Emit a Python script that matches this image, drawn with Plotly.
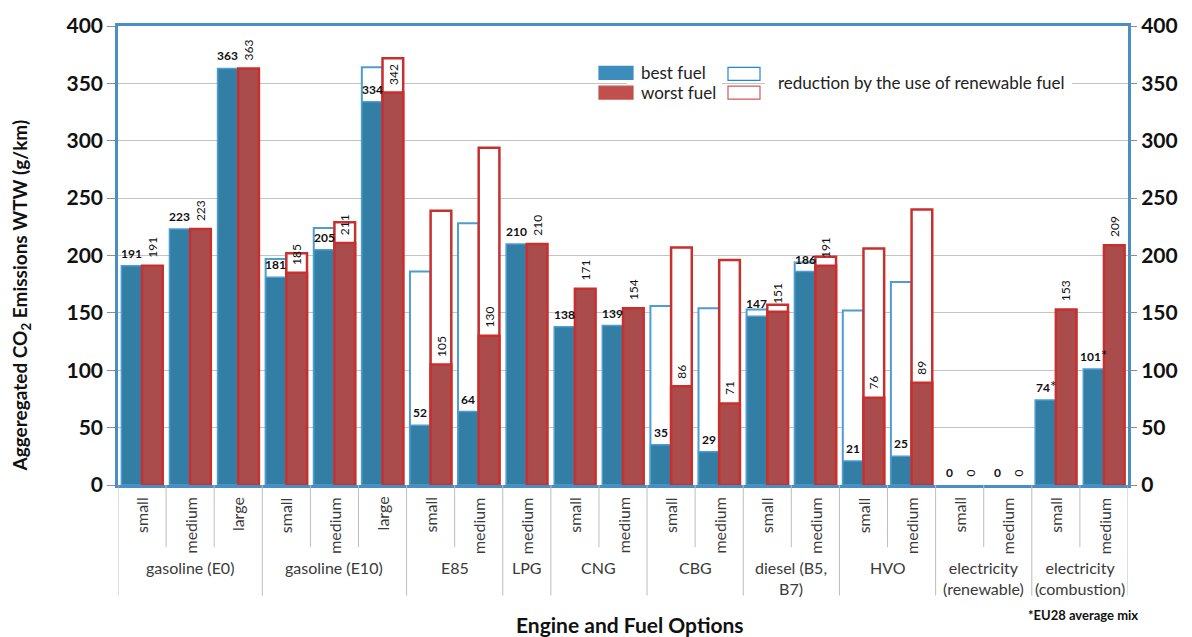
import plotly.graph_objects as go

# ---- data -------------------------------------------------------------
fuel_groups = ["gasoline (E0)", "gasoline (E10)", "E85", "LPG", "CNG", "CBG",
               "diesel (B5,<br>B7)", "HVO", "electricity<br>(renewable)",
               "electricity<br>(combustion)"]
group_sizes = [3, 3, 2, 1, 2, 2, 2, 2, 2, 2]
engine_sizes = ["small", "medium", "large",
                "small", "medium", "large",
                "small", "medium",
                "medium",
                "small", "medium",
                "small", "medium",
                "small", "medium",
                "small", "medium",
                "small", "medium",
                "small", "medium"]

# emissions with the best / worst fuel of each option (g/km)
best_fuel = [191, 223, 363, 181, 205, 334, 52, 64, 210, 138, 139,
             35, 29, 147, 186, 21, 25, 0, 0, 74, 101]
worst_fuel = [191, 223, 363, 185, 211, 342, 105, 130, 210, 171, 154,
              86, 71, 151, 191, 76, 89, 0, 0, 153, 209]
# emissions before the reduction by renewable fuel (outlined part)
best_fossil_top = [None, None, None, 197, 224, 364, 186, 228, None, None, None,
                   156, 154, 153, 194, 152, 177, None, None, None, None]
worst_fossil_top = [None, None, None, 202, 229, 372, 239, 294, None, None, None,
                    207, 196, 157, 199, 206, 240, None, None, None, None]
# footnote marks on the best-fuel labels (EU28 electricity mix)
best_label_note = [""] * 19 + ["*", "*"]

y_ticks = [0, 50, 100, 150, 200, 250, 300, 350, 400]

# ---- style ------------------------------------------------------------
FONT = "Lato, 'Open Sans', sans-serif"
BLUE_FILL = "#327ea5"
BLUE_EDGE = "#4d9cd2"
RED_FILL = "#a94c4b"
RED_EDGE = "#c8302f"
FRAME = "#4a8fc4"
GRID = "#c4c4c4"
SEP = "#bdbdbd"
TXT = "#3a3a3a"
BAR_W = 0.43

W, H = 1192, 637
ML, MR, MT, MB = 118, 64, 20, 152
PW, PH = W - ML - MR, H - MT - MB


def px_x(px):
    return (px - ML) / PW


def px_y(py):
    return (H - MB - py) / PH


def edge_widths(values, width):
    # no outline on empty (zero-height) bars
    return [width if v else 0 for v in values]


idx = list(range(len(engine_sizes)))

fig = go.Figure()

# outlined bars: level before the renewable share
fig.add_bar(x=idx, y=best_fossil_top, width=BAR_W, offset=-BAR_W,
            marker=dict(color="white", line=dict(color=BLUE_EDGE, width=2)))
fig.add_bar(x=idx, y=worst_fossil_top, width=BAR_W, offset=0,
            marker=dict(color="white", line=dict(color=RED_EDGE, width=2.5)))
# filled bars
fig.add_bar(x=idx, y=best_fuel, width=BAR_W, offset=-BAR_W,
            marker=dict(color=BLUE_FILL,
                        line=dict(color=BLUE_EDGE,
                                  width=edge_widths(best_fuel, 1.5))))
fig.add_bar(x=idx, y=worst_fuel, width=BAR_W, offset=0,
            marker=dict(color=RED_FILL,
                        line=dict(color=RED_EDGE,
                                  width=edge_widths(worst_fuel, 2.5))))
# carrier for the right-hand value axis
fig.add_scatter(x=[], y=[], yaxis="y2", showlegend=False)

annotations = []
shapes = []

# value labels
for i, (b, w) in enumerate(zip(best_fuel, worst_fuel)):
    note = (f"<span style='font-size:15px'>{best_label_note[i]}</span>"
            if best_label_note[i] else "")
    annotations.append(dict(x=i - BAR_W / 2, y=b, xref="x", yref="y",
                            text=f"<b>{b}</b>{note}", showarrow=False,
                            yanchor="bottom", yshift=3,
                            font=dict(family=FONT, size=12, color="#111")))
    annotations.append(dict(x=i + BAR_W / 2, y=w, xref="x", yref="y",
                            text=str(w), textangle=-90, showarrow=False,
                            yanchor="bottom", yshift=6,
                            font=dict(family=FONT, size=12, color="#111")))

# engine size labels
for i, s in enumerate(engine_sizes):
    annotations.append(dict(x=i, y=px_y(495), xref="x", yref="paper",
                            text=s, textangle=-90, showarrow=False,
                            yanchor="top",
                            font=dict(family=FONT, size=16, color=TXT)))

# fuel group labels and separators
start = 0
group_edges = [-0.5]
for g, n in zip(fuel_groups, group_sizes):
    centre = start + (n - 1) / 2
    annotations.append(dict(x=centre, y=px_y(557), xref="x", yref="paper",
                            text=g, showarrow=False, yanchor="top",
                            font=dict(family=FONT, size=16, color=TXT)))
    for k in range(1, n):
        b = start + k - 0.5
        shapes.append(dict(type="line", xref="x", yref="paper",
                           x0=b, x1=b, y0=px_y(485), y1=px_y(548),
                           line=dict(color=SEP, width=1)))
    start += n
    group_edges.append(start - 0.5)
for b in group_edges:
    shapes.append(dict(type="line", xref="x", yref="paper",
                       x0=b, x1=b, y0=px_y(485), y1=px_y(597),
                       line=dict(color=SEP, width=1)))

# axis titles and footnote
annotations.append(dict(x=px_x(630), y=px_y(626), xref="paper", yref="paper",
                        text="<b>Engine and Fuel Options</b>", showarrow=False,
                        xanchor="center", yanchor="middle",
                        font=dict(family=FONT, size=21, color="#111")))
annotations.append(dict(x=px_x(1140), y=px_y(617), xref="paper", yref="paper",
                        text="<b>*EU28 average mix</b>", showarrow=False,
                        xanchor="right", yanchor="middle",
                        font=dict(family=FONT, size=13, color="#111")))
annotations.append(dict(x=px_x(21), y=px_y(293), xref="paper", yref="paper",
                        text="<b>Aggeregated CO<sub>2</sub> Emissions WTW (g/km)</b>",
                        textangle=-90, showarrow=False,
                        xanchor="center", yanchor="middle",
                        font=dict(family=FONT, size=19, color="#111")))

# legend block
for x0, x1 in [(627, 722), (765, 1072)]:
    shapes.append(dict(type="rect", xref="paper", yref="paper",
                       x0=px_x(x0), x1=px_x(x1), y0=px_y(57), y1=px_y(98),
                       fillcolor="white", line=dict(width=0), layer="above"))
legend_boxes = [
    (599, 633, 61, 74, "#3c8dbc", "#3c8dbc"),
    (599, 633, 81, 94, "#c0504d", "#c0504d"),
    (728, 760, 62, 75, "white", "#1f8ad0"),
    (728, 760, 81, 94, "white", "#d05a5a"),
]
for x0, x1, y0, y1, fill, edge in legend_boxes:
    shapes.append(dict(type="rect", xref="paper", yref="paper",
                       x0=px_x(x0), x1=px_x(x1), y0=px_y(y0), y1=px_y(y1),
                       fillcolor=fill, line=dict(color=edge, width=1.2),
                       layer="above"))
for txt, xp, yp in [("best fuel", 639, 67), ("worst fuel", 639, 87),
                    ("reduction by the use of renewable fuel", 776, 77)]:
    annotations.append(dict(x=px_x(xp), y=px_y(yp), xref="paper", yref="paper",
                            text=txt, showarrow=False, xanchor="left",
                            yanchor="middle",
                            font=dict(family=FONT, size=17, color="#222")))

tick_font = dict(family=FONT, size=21, color="#111")
fig.update_layout(
    width=W, height=H,
    margin=dict(l=ML, r=MR, t=MT, b=MB),
    paper_bgcolor="white", plot_bgcolor="white",
    barmode="overlay", showlegend=False,
    xaxis=dict(range=[-0.5, len(idx) - 0.5], showticklabels=False,
               ticks="", showgrid=False, zeroline=False,
               showline=True, mirror=True, linecolor=FRAME, linewidth=2.5),
    yaxis=dict(range=[0, 400], tickvals=y_ticks,
               ticktext=[f"<b>{t}</b>" for t in y_ticks],
               tickfont=tick_font, ticks="outside", ticklen=8,
               tickcolor="#8c8c8c", showgrid=True, gridcolor=GRID,
               gridwidth=1, zeroline=False, showline=True, mirror=True,
               linecolor=FRAME, linewidth=2.5),
    yaxis2=dict(range=[0, 400], overlaying="y", side="right",
                tickvals=y_ticks, ticktext=[f"<b>{t}</b>" for t in y_ticks],
                tickfont=tick_font, ticks="outside", ticklen=8,
                tickcolor="#8c8c8c", showgrid=False, zeroline=False,
                showline=False),
    annotations=annotations,
    shapes=shapes,
)

fig.write_html("out.html")
